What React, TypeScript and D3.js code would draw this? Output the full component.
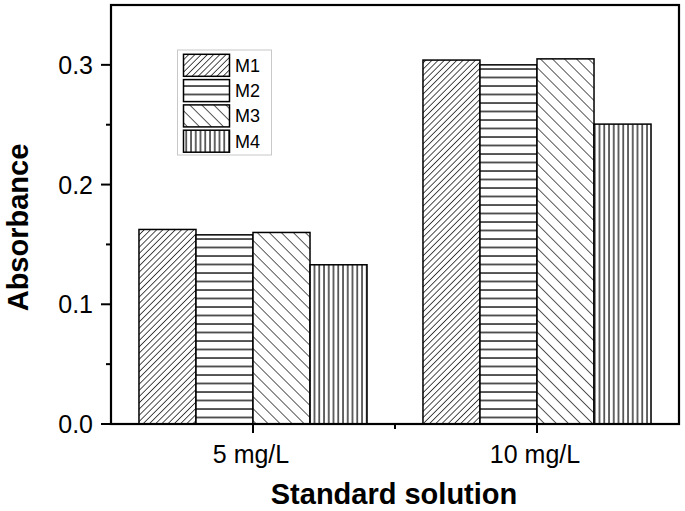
import React from "react";
import * as d3 from "d3";

const categories = ["5 mg/L", "10 mg/L"];
const series = ["M1", "M2", "M3", "M4"];
const m1 = [0.1625, 0.304];
const m2 = [0.158, 0.300];
const m3 = [0.160, 0.305];
const m4 = [0.133, 0.2505];
const majorTicks = [0.0, 0.1, 0.2, 0.3];
const minorTicks = [0.05, 0.15, 0.25];
const values = [m1, m2, m3, m4];

const W = 685, H = 511;
const L = 111, R = 679, T = 5, B = 424;
const FONT = "'Liberation Sans', Arial, sans-serif";

export default function App() {
  const x = d3.scaleBand<string>().domain(categories).range([L, R]).paddingInner(0.197).paddingOuter(0.0985);
  const xs = d3.scaleBand<string>().domain(series).range([0, x.bandwidth()]).padding(0);
  const y = d3.scaleLinear().domain([0, 0.35]).range([B, T]);
  const fmt = d3.format(".1f");
  const patId = (s: string) => `pat-${s}`;
  const midTicks = categories.slice(1).map((c, i) => ((x(categories[i]) as number) + x.bandwidth() / 2 + (x(c) as number) + x.bandwidth() / 2) / 2);

  return (
    <svg width={W} height={H} style={{ position: "absolute", left: 0, top: 0, background: "#fff" }}>
      <defs>
        <pattern id={patId("M1")} patternUnits="userSpaceOnUse" width={4.4} height={10} patternTransform="rotate(45)">
          <line x1={0} y1={-1} x2={0} y2={11} stroke="#000" strokeWidth={1.4} />
        </pattern>
        <pattern id={patId("M2")} patternUnits="userSpaceOnUse" width={10} height={8.5}>
          <line x1={-1} y1={1} x2={11} y2={1} stroke="#000" strokeWidth={1.3} />
        </pattern>
        <pattern id={patId("M3")} patternUnits="userSpaceOnUse" width={8.5} height={10} patternTransform="rotate(-45)">
          <line x1={0} y1={-1} x2={0} y2={11} stroke="#000" strokeWidth={1.3} />
        </pattern>
        <pattern id={patId("M4")} patternUnits="userSpaceOnUse" width={4.75} height={10}>
          <line x1={1} y1={-1} x2={1} y2={11} stroke="#000" strokeWidth={1.2} />
        </pattern>
      </defs>
      <rect x={0} y={0} width={W} height={H} fill="#fff" />

      {categories.map((c, ci) =>
        series.map((s, si) => {
          const bx = (x(c) as number) + (xs(s) as number);
          const v = values[si][ci];
          return (
            <g key={c + s}>
              <rect x={bx} y={y(v)} width={xs.bandwidth()} height={B - y(v)} fill="#fff" />
              <rect x={bx} y={y(v)} width={xs.bandwidth()} height={B - y(v)} fill={`url(#${patId(s)})`} stroke="#000" strokeWidth={1.5} />
            </g>
          );
        })
      )}

      {/* frame */}
      <rect x={L} y={T} width={R - L} height={B - T} fill="none" stroke="#000" strokeWidth={2.2} />

      {/* y ticks */}
      {majorTicks.map((t) => (
        <g key={"yt" + t}>
          <line x1={L - 10} x2={L} y1={y(t)} y2={y(t)} stroke="#000" strokeWidth={2} />
          <text x={L - 18} y={y(t)} dy="0.36em" textAnchor="end" fontFamily={FONT} fontSize={25}>{fmt(t)}</text>
        </g>
      ))}
      {minorTicks.map((t) => (
        <line key={"ym" + t} x1={L - 5} x2={L} y1={y(t)} y2={y(t)} stroke="#000" strokeWidth={2} />
      ))}

      {/* x ticks */}
      {categories.map((c) => {
        const cx = (x(c) as number) + x.bandwidth() / 2;
        return (
          <g key={"xt" + c}>
            <line x1={cx} x2={cx} y1={B} y2={B + 9} stroke="#000" strokeWidth={2} />
            <text x={cx - 2} y={463} textAnchor="middle" fontFamily={FONT} fontSize={25}>{c}</text>
          </g>
        );
      })}
      {midTicks.map((m, i) => (
        <line key={"xm" + i} x1={m} x2={m} y1={B} y2={B + 5} stroke="#000" strokeWidth={2} />
      ))}

      {/* axis titles */}
      <text x={(L + R) / 2 - 1} y={504} textAnchor="middle" fontFamily={FONT} fontWeight="bold" fontSize={29}>Standard solution</text>
      <text transform={`translate(28,${227.5}) rotate(-90)`} textAnchor="middle" fontFamily={FONT} fontWeight="bold" fontSize={29}>Absorbance</text>

      {/* legend */}
      <rect x={177.5} y={50} width={94} height={105} fill="#fff" stroke="#c8c8c8" strokeWidth={1} />
      {series.map((s, i) => {
        const sy = 54.3 + i * 25.3;
        return (
          <g key={"lg" + s}>
            <rect x={183.5} y={sy} width={46} height={22} fill={`url(#${patId(s)})`} stroke="#000" strokeWidth={1.5} />
            <text x={235} y={sy + 11} dy="0.36em" fontFamily={FONT} fontSize={18}>{s}</text>
          </g>
        );
      })}
    </svg>
  );
}
